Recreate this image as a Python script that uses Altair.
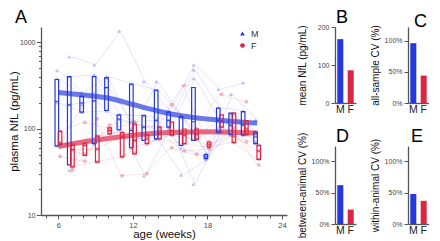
import altair as alt
import pandas as pd

FONT = "Liberation Sans"
BLUE = "#2438dc"
RED = "#dc2444"
AXIS_GREY = "#555555"

sexes = ["M", "F"]

# ---- Panel A: weekly box summaries (pg/mL) ----
box_weeks = list(range(6, 23))
m_q1 = [63, 38, 155, 67, 162, 97, 60, 73, 76, 104, 64, 73, 45, 91, 85, 84, 67]
m_med = [207, 188, 198, 210, 299, 129, 95, 104, 125, 125, 87, 120, 47, 125, 109, 110, 80]
m_q3 = [370, 400, 236, 400, 389, 144, 327, 142, 279, 155, 138, 299, 50, 173, 151, 157, 91]
f_q1 = [65, 36, 49, 41, 87, 47, 51, 67, 76, 84, 67, 75, 61, 104, 69, 85, 44]
f_med = [68, 57, 64, 58, 95, 80, 73, 76, 87, 95, 84, 85, 65, 121, 82, 99, 55]
f_q3 = [93, 65, 68, 82, 102, 90, 113, 84, 104, 119, 99, 99, 70, 144, 151, 124, 64]

# trend fits
trend_weeks = [6, 8, 10, 12, 14, 16, 18, 20, 22]
m_trend = [262, 245, 226, 190, 160, 140, 129, 121, 116]
f_trend = [62, 70, 77, 84, 89, 91, 92, 91, 89]

# individual animals
even_weeks = [6, 8, 10, 12, 14, 16, 18, 20, 22]
odd_weeks = [7, 9, 11, 13, 15, 17, 19, 21]
m_even = {
    "M1": [470, 260, 400, 330, 280, 140, 50, 250, 125],
    "M2": [380, 240, 300, 120, 125, 60, 46, 150, 90],
    "M3": [200, 155, 160, 60, 76, 29, 44, 110, 70],
    "M4": [63, 190, 390, 100, 350, 135, 52, 85, 67],
}
m_odd = {
    "M5": [680, 550, 1350, 350, 160, 550, 285, 340],
    "M6": [400, 420, 145, 140, 125, 480, 175, 160],
    "M7": [190, 210, 128, 104, 105, 380, 125, 110],
    "M8": [33, 67, 97, 28.5, 100, 22.7, 90, 84],
}
f_even = {
    "F1": [93, 118, 102, 113, 104, 315, 70, 150, 64],
    "F2": [68, 64, 95, 73, 87, 84, 65, 82, 55],
    "F3": [65, 50, 88, 52, 76, 67, 61, 70, 44],
    "F4": [48, 42, 110, 120, 95, 55, 58, 100, 38],
}
f_odd = {
    "F5": [66, 82, 90, 84, 190, 99, 250, 205],
    "F6": [57, 58, 80, 76, 95, 85, 121, 99],
    "F7": [36, 41, 47, 67, 84, 75, 104, 85],
    "F8": [33, 130, 28.5, 30, 60, 50, 90, 70],
}

# ---- Panels B-E ----
mean_nfl = [168, 86]
all_cv = [0.96, 0.44]
between_cv = [0.62, 0.23]
within_cv = [0.48, 0.37]


def animals_frame(sex, even, odd):
    rows = []
    for name, vals in even.items():
        for w, v in zip(even_weeks, vals):
            rows.append({"animal": name, "sex": sex, "week": w, "nfl": v})
    for name, vals in odd.items():
        for w, v in zip(odd_weeks, vals):
            rows.append({"animal": name, "sex": sex, "week": w, "nfl": v})
    return pd.DataFrame(rows)


def box_frame(sex, q1, med, q3):
    return pd.DataFrame({"sex": sex, "week": box_weeks, "q1": q1, "med": med, "q3": q3})


def trend_frame(sex, vals):
    return pd.DataFrame({"sex": sex, "week": trend_weeks, "nfl": vals})


x_scale = alt.Scale(domain=[5, 24], nice=False, zero=False)
y_scale = alt.Scale(type="log", domain=[10, 1500], nice=False)
color_scale = alt.Scale(domain=sexes, range=[BLUE, RED])
shape_scale = alt.Scale(domain=sexes, range=["triangle-up", "circle"])

A_W, A_H = 246, 188
LETTER = dict(fontSize=18, font=FONT, fontWeight="normal", anchor="start",
              color="#000", frame="group")

x_axis = alt.Axis(
    values=list(range(5, 25)),
    labelExpr="datum.value % 6 == 0 ? datum.label : ''",
    tickSize={"condition": {"test": "datum.value % 6 == 0", "value": 4}, "value": 3},
    labelFontSize=7.5, labelPadding=2, labelOverlap=False, labelFlush=False,
    title="age (weeks)", titleFontSize=11.5, titleFontWeight="normal", titlePadding=0,
)
y_vals = [10, 20, 30, 40, 50, 60, 70, 80, 90, 100, 200, 300, 400, 500, 600, 700, 800, 900, 1000]
y_axis = alt.Axis(
    values=y_vals, format="d",
    labelExpr="(datum.value == 10 || datum.value == 100 || datum.value == 1000) ? datum.label : ''",
    tickSize={"condition": {"test": "datum.value == 10 || datum.value == 100 || datum.value == 1000",
                            "value": 4.5}, "value": 2.5},
    labelFontSize=7, labelPadding=1.5, labelOverlap=False, labelFlush=False,
    title="plasma NfL (pg/mL)", titleFontSize=11.5, titleFontWeight="normal",
    titleX=-26.5, titleY=A_H / 2, titleAlign="center", titleBaseline="middle", titleAngle=270,
)


def X():
    return alt.X("week:Q", scale=x_scale, axis=x_axis, title="age (weeks)")


def Y(field):
    return alt.Y(f"{field}:Q", scale=y_scale, axis=y_axis, title="plasma NfL (pg/mL)")


legend = alt.Legend(
    orient="none", legendX=197, legendY=2, title=None, labelFontSize=9,
    labelFont=FONT, labelColor="#333", symbolSize=22, symbolOpacity=1,
    rowPadding=1, padding=0, labelOffset=4,
)

frames = {
    "M": (animals_frame("M", m_even, m_odd), box_frame("M", m_q1, m_med, m_q3),
          trend_frame("M", m_trend), -1.6, BLUE),
    "F": (animals_frame("F", f_even, f_odd), box_frame("F", f_q1, f_med, f_q3),
          trend_frame("F", f_trend), 1.6, RED),
}

layers = []
for sex in sexes:
    adf, _, _, off, col = frames[sex]
    layers.append(
        alt.Chart(adf).mark_line(strokeWidth=0.6, opacity=0.22, color=col).encode(
            x=X(), y=Y("nfl"), detail="animal:N",
        )
    )
for sex in sexes:
    adf, _, _, off, col = frames[sex]
    layers.append(
        alt.Chart(adf).mark_point(filled=True, size=16, opacity=0.3, xOffset=off).encode(
            x=X(), y=Y("nfl"),
            color=alt.Color("sex:N", scale=color_scale, legend=legend),
            shape=alt.Shape("sex:N", scale=shape_scale, legend=legend),
        )
    )
for sex in sexes:
    _, _, tdf, off, col = frames[sex]
    layers.append(
        alt.Chart(tdf).mark_line(strokeWidth=5, opacity=0.68, interpolate="monotone",
                                 color=col).encode(x=X(), y=Y("nfl"))
    )
for sex in sexes:
    _, bdf, _, off, col = frames[sex]
    layers.append(
        alt.Chart(bdf).mark_bar(filled=False, width=3.6, strokeWidth=1.2, xOffset=off,
                                color=col).encode(x=X(), y=Y("q1"), y2="q3:Q")
    )
    layers.append(
        alt.Chart(bdf).mark_point(shape="M-1,0L1,0", size=14, filled=False, strokeWidth=1,
                                  opacity=1, xOffset=off, color=col).encode(x=X(), y=Y("med"))
    )

panel_a = alt.layer(*layers).properties(
    width=A_W, height=A_H,
    title=alt.TitleParams("A", dx=-26, offset=0, **LETTER),
)


def bar_panel(values, letter, ytitle, domain, ticks, fmt, height, dx, toff):
    df = pd.DataFrame({"sex": sexes, "value": values})
    return alt.Chart(df).mark_bar().encode(
        x=alt.X("sex:N", sort=sexes,
                scale=alt.Scale(paddingInner=0.42, paddingOuter=0.22),
                axis=alt.Axis(title=None, labelAngle=0, ticks=False, labelFontSize=10.5,
                              labelPadding=1, labelColor="#222")),
        y=alt.Y("value:Q", scale=alt.Scale(domain=domain, nice=False),
                axis=alt.Axis(values=ticks, format=fmt, title=ytitle, labelFontSize=7,
                              tickSize=4, labelPadding=2, titleFontSize=10,
                              titleFontWeight="normal", titleX=-33, titleY=height / 2,
                              titleAlign="center", titleBaseline="middle", titleAngle=270)),
        color=alt.Color("sex:N", scale=color_scale, legend=None),
    ).properties(
        width=21, height=height,
        title=alt.TitleParams(letter, dx=dx, offset=toff, **LETTER),
    )


panel_b = bar_panel(mean_nfl, "B", "mean NfL (pg/mL)", [0, 200], [0, 100, 200], "d", 76, 1, -3.5)
panel_c = bar_panel(all_cv, "C", "all-sample CV (%)", [0, 1.22], [0, 0.5, 1], ".0%", 76, 6, -5.8)
panel_d = bar_panel(between_cv, "D", "between-animal CV (%)", [0, 1.245], [0, 0.5, 1], ".0%", 78, 1, -13.8)
panel_e = bar_panel(within_cv, "E", "within-animal CV (%)", [0, 1.245], [0, 0.5, 1], ".0%", 78, 3, -7.7)

col2 = alt.vconcat(panel_b, panel_d, spacing=13)
col3 = alt.vconcat(panel_c, panel_e, spacing=13)
right = alt.hconcat(col2, col3, spacing=14)

chart = alt.hconcat(panel_a, right, spacing=9).resolve_scale(
    color="independent", shape="independent"
).properties(
    padding={"left": 0, "top": 0, "right": 0, "bottom": 0}
).configure(font=FONT).configure_view(stroke=None).configure_axis(
    domainColor=AXIS_GREY, tickColor=AXIS_GREY, labelColor="#444", titleColor="#111",
    grid=False, domainWidth=1.3, tickWidth=1, labelFont=FONT, titleFont=FONT,
)

chart.save("out.html", embed_options={"renderer": "svg", "actions": False})
